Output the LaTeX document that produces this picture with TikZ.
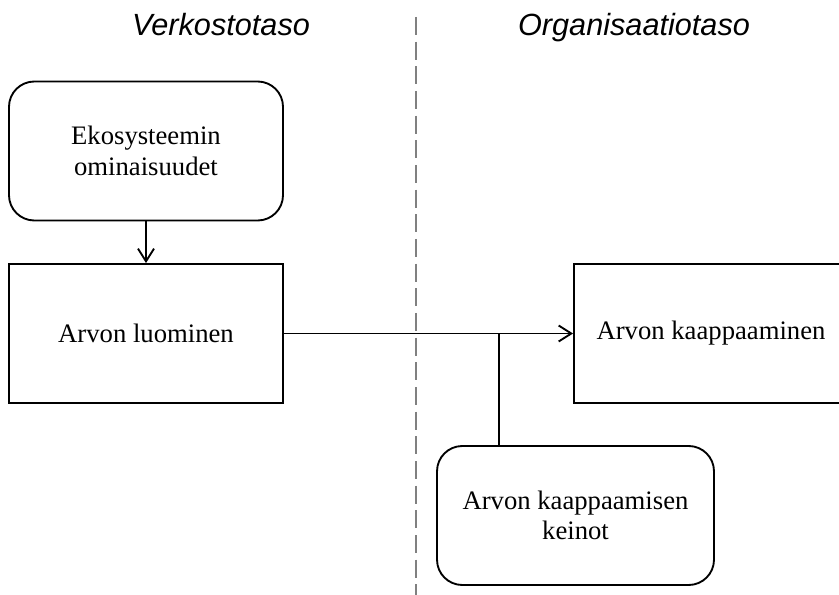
\documentclass[tikz,border=0pt]{standalone}
\usepackage{fontspec}
\setmainfont{Liberation Serif}
\newfontfamily\otsikkofont{Liberation Sans}
\usetikzlibrary{arrows.meta}
\definecolor{viivaharmaa}{RGB}{128,128,128}
\tikzset{
  laatikko/.style={draw,line width=1.4pt,inner sep=0pt,align=center,
    minimum width=274*0.75pt,minimum height=139*0.75pt,
    font=\fontsize{20}{23}\selectfont},
  pyorea/.style={laatikko,rounded corners=19pt},
  otsikko/.style={anchor=base,font=\otsikkofont\itshape\fontsize{23}{27}\selectfont}
}

\begin{document}
\begin{tikzpicture}[x=0.75pt,y=-0.75pt,>={Straight Barb[length=9.5pt,width=12pt]}]
                \useasboundingbox (0,0) rectangle (839,595);
                \clip (0,0) rectangle (839,595);
                \node[otsikko] (verkosto) at (221,36) {Verkostotaso};
                \node[otsikko] (organisaatio) at (634,36) {Organisaatiotaso};
                \draw[viivaharmaa,line width=1.5pt,dash pattern=on 13.5pt off 5pt] (416,17) -- (416,600);
                \node[pyorea] (eko) at (146,151) {Ekosysteemin\\ominaisuudet};
                \node[laatikko] (luominen) at (146,333.5) {Arvon luominen};
                \node[laatikko] (kaappaaminen) at (711,333.5) {Arvon kaappaaminen};
                \node[pyorea,minimum width=277*0.75pt] (keinot) at (575.5,515.5) {Arvon kaappaamisen\\keinot};
                \coordinate (liitos) at (499,333.5);
                \draw[line width=1.4pt,->] (eko) -- (luominen);
                \draw[line width=1.4pt,->] (luominen) -- (kaappaaminen);
                \draw[line width=1.4pt] (liitos) -- (liitos |- keinot.north);
            \end{tikzpicture}
\end{document}
